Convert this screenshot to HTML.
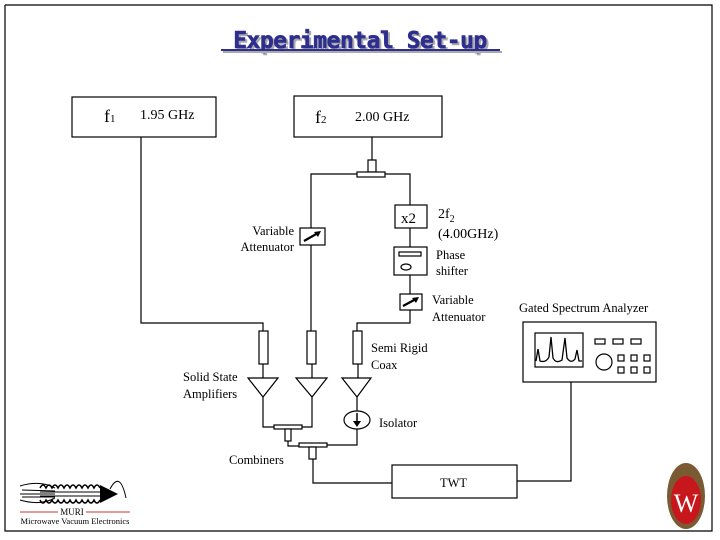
<!DOCTYPE html>
<html><head><style>
body{margin:0;background:#fff;}
svg{display:block;}
text{font-family:"Liberation Serif",serif;fill:#000;}
</style></head><body>
<svg width="720" height="540" viewBox="0 0 720 540" xmlns="http://www.w3.org/2000/svg">
<rect x="0" y="0" width="720" height="540" fill="#fff"/>
<polyline points="5,5 712,5 712,531 5,531 5,5" fill="none" stroke="#000" stroke-width="1.2"/>
<text x="362" y="50" text-anchor="middle" font-size="23" font-weight="bold" letter-spacing="-0.5" style="font-family:'DejaVu Sans Mono',monospace;fill:#aaa;stroke:#aaa;stroke-width:0.6">Experimental Set-up</text>
<text x="360" y="48" text-anchor="middle" font-size="23" font-weight="bold" letter-spacing="-0.5" style="font-family:'DejaVu Sans Mono',monospace;fill:#2e2e8f;stroke:#2e2e8f;stroke-width:0.6">Experimental Set-up</text>
<line x1="223" y1="52" x2="502" y2="52" stroke="#aaa" stroke-width="2"/>
<line x1="221" y1="50" x2="500" y2="50" stroke="#2e2e8f" stroke-width="2"/>

<g fill="none" stroke="#000" stroke-width="1.2">
<rect x="72" y="97" width="144" height="40" fill="#fff"/>
<rect x="294" y="96" width="148" height="41" fill="#fff"/>
<polyline points="141,137 141,323 263,323 263,331"/>
<line x1="372" y1="137" x2="372" y2="160"/>
<rect x="368" y="160" width="8" height="12" fill="#fff"/>
<rect x="357" y="172" width="28" height="5" fill="#fff"/>
<polyline points="357,174 311,174 311,331"/>
<polyline points="385,174 410,174 410,294"/>
<rect x="300" y="228" width="25" height="17" fill="#fff"/>
<rect x="395" y="205" width="32" height="23" fill="#fff"/>
<rect x="394" y="247" width="33" height="28" fill="#fff"/>
<rect x="399" y="252" width="22" height="4"/>
<ellipse cx="406" cy="267" rx="5" ry="3"/>
<rect x="400" y="294" width="22" height="16" fill="#fff"/>
<polyline points="410,310 410,323 357,323 357,331"/>
<rect x="259" y="331" width="9" height="33" fill="#fff"/>
<rect x="307" y="331" width="9" height="33" fill="#fff"/>
<rect x="353" y="331" width="9" height="33" fill="#fff"/>
<line x1="263" y1="364" x2="263" y2="378"/>
<line x1="312" y1="364" x2="312" y2="378"/>
<line x1="358" y1="364" x2="358" y2="378"/>
<polygon points="248,378 278,378 263,397"/>
<polygon points="296,378 327,378 312,397"/>
<polygon points="342,378 371,378 357,397"/>
<line x1="357" y1="397" x2="357" y2="411"/>
<ellipse cx="357" cy="420" rx="13" ry="9"/>
<polyline points="357,429 357,445 327,445"/>
<polyline points="263,397 263,427 274,427"/>
<polyline points="312,397 312,427 302,427"/>
<rect x="274" y="425" width="28" height="4" fill="#fff"/>
<rect x="285" y="429" width="6" height="12" fill="#fff"/>
<polyline points="288,441 288,446 299,446"/>
<rect x="299" y="443" width="28" height="4" fill="#fff"/>
<rect x="309" y="447" width="7" height="12" fill="#fff"/>
<polyline points="313,459 313,483 392,483"/>
<rect x="392" y="465" width="125" height="33" fill="#fff"/>
<polyline points="517,481 571,481 571,382"/>
<rect x="523" y="322" width="133" height="60" fill="#fff"/>
<rect x="535" y="333" width="48" height="34"/>
<path d="M536,361 L538,349 L540,361 Q546,363 549,357 L551,337 L553,358 Q556,364 562,360 L565,338 L567,358 Q571,364 575,359 L577,350 L579,361 L582,361" stroke-width="1.3"/>
<rect x="595" y="339" width="10" height="5"/>
<rect x="613" y="339" width="10" height="5"/>
<rect x="631" y="339" width="10" height="5"/>
<circle cx="604" cy="362" r="8"/>
<rect x="618" y="355" width="6" height="6"/>
<rect x="631" y="355" width="6" height="6"/>
<rect x="644" y="355" width="6" height="6"/>
<rect x="618" y="367" width="6" height="6"/>
<rect x="631" y="367" width="6" height="6"/>
<rect x="644" y="367" width="6" height="6"/>
</g>
<g stroke="#000" stroke-width="2.2">
<line x1="304" y1="241" x2="318" y2="233"/>
<line x1="403" y1="306" x2="416" y2="299"/>
</g>
<polygon points="321,231 314,232 318,237" fill="#000"/>
<polygon points="419,297 412,298 416,303" fill="#000"/>
<line x1="357" y1="413" x2="357" y2="422" stroke="#000" stroke-width="1.5"/>
<polygon points="353,421 361,421 357,427" fill="#000"/>

<g font-size="14">
<text x="104" y="122" font-size="18">f<tspan font-size="11">1</tspan></text>
<text x="140" y="119">1.95 GHz</text>
<text x="315" y="123" font-size="18">f<tspan font-size="11">2</tspan></text>
<text x="355" y="121">2.00 GHz</text>
<text x="401" y="223" font-size="15">x2</text>
<text x="438" y="218">2f<tspan font-size="10" dy="4">2</tspan></text>
<text x="438" y="238">(4.00GHz)</text>
</g>
<g font-size="12.5">
<text x="294" y="235" text-anchor="end">Variable</text>
<text x="294" y="251" text-anchor="end">Attenuator</text>
<text x="436" y="259">Phase</text>
<text x="436" y="275">shifter</text>
<text x="432" y="304">Variable</text>
<text x="432" y="321">Attenuator</text>
<text x="371" y="352">Semi Rigid</text>
<text x="371" y="369">Coax</text>
<text x="183" y="381">Solid State</text>
<text x="183" y="398">Amplifiers</text>
<text x="379" y="427">Isolator</text>
<text x="229" y="464">Combiners</text>
<text x="440" y="487">TWT</text>
<text x="519" y="312">Gated Spectrum Analyzer</text>
</g>
<g stroke="#000" stroke-width="1" fill="none">
<path d="M20,486 Q40,480 55,488 M20,494 L55,494 M20,500 Q40,506 55,498 M22,490 L55,491 M22,497 L55,497"/>
<path d="M40,488 q3,-6 6,0 q3,-6 6,0 q3,-6 6,0 q3,-6 6,0 q3,-6 6,0 q3,-6 6,0 q3,-6 6,0 q3,-6 6,0 q3,-6 6,0 q3,-6 6,0 L100,488" stroke-width="1.5"/>
<path d="M40,500 q3,6 6,0 q3,6 6,0 q3,6 6,0 q3,6 6,0 q3,6 6,0 q3,6 6,0 q3,6 6,0 q3,6 6,0 q3,6 6,0 q3,6 6,0 L100,500" stroke-width="1.5"/>
<line x1="40" y1="492" x2="100" y2="492"/><line x1="40" y1="496" x2="100" y2="496"/>
<path d="M110,489 Q120,470 126,498"/>
</g>
<polygon points="100,485 118,494 100,503" fill="#000"/>
<line x1="20" y1="512" x2="58" y2="512" stroke="#c33" stroke-width="1"/>
<line x1="86" y1="512" x2="130" y2="512" stroke="#c33" stroke-width="1"/>
<text x="72" y="515" font-size="9" text-anchor="middle">MURI</text>
<text x="75" y="524" font-size="8.5" text-anchor="middle">Microwave Vacuum Electronics</text>
<ellipse cx="686" cy="496" rx="19" ry="33" fill="#7a5a32"/>
<ellipse cx="686" cy="500" rx="15" ry="24" fill="#c8161d"/>
<text x="686" y="512" font-size="26" text-anchor="middle" style="fill:#fff">W</text>
</svg>
</body></html>
